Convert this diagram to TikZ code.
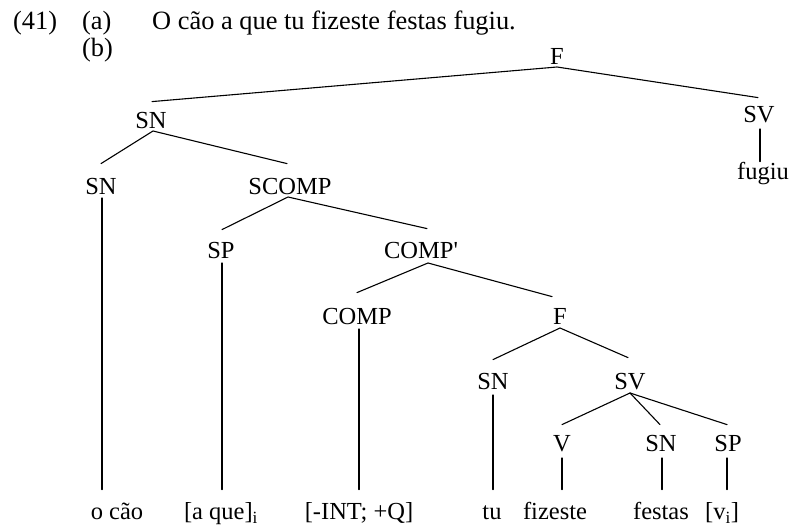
\documentclass[tikz,border=0pt]{standalone}
\usepackage{fontspec}
\setmainfont{Liberation Serif}
\usetikzlibrary{calc}
\newcommand\treefont{\fontsize{24.5}{29}\selectfont}
\newcommand\headfont{\fontsize{26.4}{31}\selectfont}
\tikzset{
  lab/.style={inner sep=0pt, text height=16pt, text depth=0pt, anchor=south, font=\treefont},
  head/.style={inner sep=0pt, anchor=base west, font=\headfont},
  br/.style={line width=1.1pt, line cap=round}
}
\begin{document}
\begin{tikzpicture}[x=1pt,y=-1pt]
\useasboundingbox[fill=white] (0,0) rectangle (789,526);
% header
\node[head] (num) at (13,30) {(41)};
\node[head] (pa) at (82,30) {(a)};
\node[head] (sent) at (152,30) {O cão a que tu fizeste festas fugiu.};
\node[head] (pb) at (82,57) {(b)};
% tree nodes
\node[lab] (F) at (557,65) {F};
\node[lab] (SN1) at (151,129) {SN};
\node[lab] (SV1) at (759,123) {SV};
\node[lab] (SN2) at (101,195) {SN};
\node[lab] (SCOMP) at (290,195) {SCOMP};
\node[lab] (SP1) at (221,259) {SP};
\node[lab] (COMPb) at (421,259) {COMP\textquotesingle};
\node[lab] (COMP) at (357,325) {COMP};
\node[lab] (F2) at (560,325) {F};
\node[lab] (SN3) at (493,390) {SN};
\node[lab] (SV2) at (630,390) {SV};
\node[lab] (V) at (562,452) {V};
\node[lab] (SN4) at (661,452) {SN};
\node[lab] (SP2) at (728,452) {SP};
% leaves
\node[lab] (l1) at (117,520) {o cão};
\node[lab] (l2) at (221,520) {[a que]\textsubscript{i}};
\node[lab] (l3) at (359,520) {[-INT; +Q]};
\node[lab] (l4) at (492,520) {tu};
\node[lab] (l5) at (555,520) {fizeste};
\node[lab] (l6) at (661,520) {festas};
\node[lab] (l7) at (722,520) {[v\textsubscript{i}]};
\node[lab] (fug) at (763,180) {fugiu};
% branches
\draw[br] ($(SN1.north)+(1,-11)$) -- ($(F.south)+(0,2)$) -- ($(SV1.north)+(-1,-9)$);
\draw[br] ($(SN2.north)+(0,-15)$) -- ($(SN1.south)+(2,2)$) -- ($(SCOMP.north)+(-3,-15)$);
\draw[br] ($(SP1.north)+(1,-13)$) -- ($(SCOMP.south)+(-2,2)$) -- ($(COMPb.north)+(6,-14)$);
\draw[br] ($(COMP.north)+(0,-16)$) -- ($(COMPb.south)+(7,4)$) -- ($(F2.north)+(-8,-12)$);
\draw[br] ($(SN3.north)+(0,-14)$) -- ($(F2.south)+(0,3)$) -- ($(SV2.north)+(-2,-16)$);
\draw[br] ($(V.north)+(0,-11)$) -- ($(SV2.south)+(0,3)$) -- ($(SN4.north)+(-1,-11)$);
\draw[br] ($(SV2.south)+(0,3)$) -- ($(SP2.north)+(-1,-11)$);
% verticals
\draw[br] ($(SV1.south)+(1,6)$) -- ($(SV1.south |- fug.north)+(1,-2)$);
\draw[br] ($(SN2.south)+(1,3)$) -- ($(SN2.south |- l1.north)+(1,-14)$);
\draw[br] ($(SP1.south)+(1,4)$) -- ($(SP1.south |- l2.north)+(1,-14)$);
\draw[br] ($(COMP.south)+(2,4)$) -- ($(COMP.south |- l3.north)+(2,-14)$);
\draw[br] ($(SN3.south)+(0,5)$) -- ($(SN3.south |- l4.north)+(0,-14)$);
\draw[br] ($(V.south)+(0,6)$) -- ($(V.south |- l5.north)+(0,-14)$);
\draw[br] ($(SN4.south)+(1,6)$) -- ($(SN4.south |- l6.north)+(1,-14)$);
\draw[br] ($(SP2.south)+(-1,6)$) -- ($(SP2.south |- l7.north)+(-1,-14)$);
\end{tikzpicture}
\end{document}
